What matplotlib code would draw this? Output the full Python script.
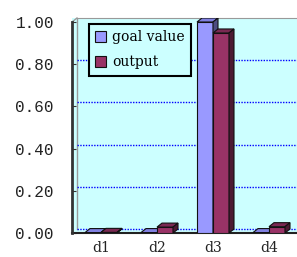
import matplotlib
matplotlib.use("Agg")
import matplotlib.pyplot as plt
from matplotlib.patches import Polygon

categories = ["d1", "d2", "d3", "d4"]
goal_value = [0.002, 0.002, 1.00, 0.002]
output = [0.003, 0.028, 0.948, 0.03]
yticks = [0.0, 0.2, 0.4, 0.6, 0.8, 1.0]

goal_col = "#9999FF"
goal_top = "#8080E0"
goal_side = "#4D4D80"
out_col = "#993366"
out_top = "#7A2952"
out_side = "#4C1A33"
wall = "#CCFFFF"

fig = plt.figure(figsize=(2.97, 2.57), dpi=100)
ax = fig.add_axes([72 / 297, 24 / 257, 225 / 297, 215 / 257])
xmin, xmax = (72 - 101) / 56, (297 - 101) / 56
ymax = 215 / 211
ax.set_xlim(xmin, xmax)
ax.set_ylim(0, ymax)
ax.set_facecolor(wall)

# depth of the fake 3d look, in data units
dx, dy = 5 / 56, 4 / 211
w = 16 / 56

# back wall edge + grid on the back wall
ax.plot([xmin + dx, xmin + dx], [dy, ymax], color="#999999", lw=1, zorder=1)
ax.plot([xmin, xmin + dx], [1.0, ymax], color="#999999", lw=1, zorder=1, clip_on=False)
for v in yticks[:-1]:
    ax.plot([xmin + dx, xmax], [v + dy, v + dy], color="#0000FF", lw=1,
            linestyle=(0, (1, 1)), zorder=1)

def bar3d(x0, h, front, top, side, label=None):
    x1 = x0 + w
    b = ax.bar(x0, h, width=w, align="edge", color=front, edgecolor="#111111",
               linewidth=0.8, zorder=3, label=label)
    ax.add_patch(Polygon([(x0, h), (x0 + dx, h + dy), (x1 + dx, h + dy), (x1, h)],
                         closed=True, facecolor=top, edgecolor="#111111", lw=0.8, zorder=3))
    ax.add_patch(Polygon([(x1, 0), (x1 + dx, dy), (x1 + dx, h + dy), (x1, h)],
                         closed=True, facecolor=side, edgecolor="#111111", lw=0.8, zorder=3))
    return b

hg = ho = None
for i in range(len(categories)):
    b1 = bar3d(i - w, goal_value[i], goal_col, goal_top, goal_side)
    b2 = bar3d(i, output[i], out_col, out_top, out_side)
    if hg is None:
        hg, ho = b1, b2

# spines
ax.spines["right"].set_visible(False)
ax.spines["left"].set_visible(False)
ax.plot([xmin, xmin], [0, 1.0], color="#333333", lw=2, clip_on=False, zorder=4)
ax.spines["top"].set_color("#999999")
ax.spines["top"].set_bounds(xmin + dx, xmax)
ax.spines["bottom"].set_color("#222222")
ax.spines["bottom"].set_linewidth(1.5)

ax.set_yticks(yticks)
ax.set_yticklabels(["%.2f" % v for v in yticks], family="Liberation Mono",
                   fontsize=11.5, color="#222222")
ax.tick_params(axis="y", direction="in", length=3, color="#333333", pad=13)
ax.set_xticks(range(len(categories)))
ax.set_xticklabels(categories, family="DejaVu Serif", fontsize=10, color="#222222")
ax.tick_params(axis="x", length=0, pad=6)

leg = fig.legend([hg, ho], ["goal value", "output"], loc="upper left",
                 bbox_to_anchor=(89 / 297, 1 - 24 / 257), borderaxespad=0,
                 fancybox=False, facecolor=wall, edgecolor="black", framealpha=1,
                 prop={"family": "DejaVu Serif", "size": 10},
                 handlelength=0.8, handleheight=0.8, handletextpad=0.4,
                 labelspacing=0.8, borderpad=0.45)
leg.get_frame().set_linewidth(1.5)

fig.savefig("out.png", dpi=100)
